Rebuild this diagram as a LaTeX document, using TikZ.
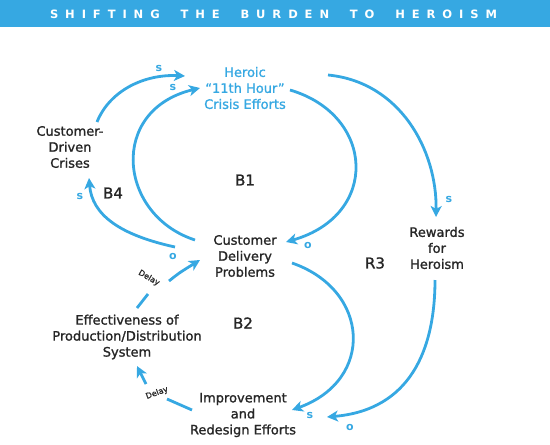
\documentclass[tikz,border=0pt]{standalone}
\usepackage{fontspec}
\setmainfont{DejaVu Sans}
\newfontfamily\inkfont[FakeBold=1.3,Ligatures=TeX]{DejaVu Sans}
\usetikzlibrary{arrows.meta,calc}
\definecolor{cldblue}{HTML}{36A8E2}
\definecolor{ink}{HTML}{262626}
\begin{document}
\begin{tikzpicture}[x=1pt,y=-1pt,
  lab/.style={font=\inkfont\fontsize{13}{16}\selectfont, text=ink, align=center, inner sep=1pt},
  loopl/.style={font=\inkfont\fontsize{15}{18}\selectfont, text=ink},
  pol/.style={font=\fontsize{11}{11}\selectfont\bfseries, text=cldblue, inner sep=0pt},
  dly/.style={font=\inkfont\fontsize{8}{9}\selectfont, text=ink, inner sep=0pt},
  link/.style={draw=cldblue, line width=2.8pt, -{Stealth[length=11pt,width=11pt,inset=3pt]}},
  plain/.style={draw=cldblue, line width=2.8pt}]
\useasboundingbox (0,0) rectangle (550,445);
\fill[cldblue] (0,0) rectangle (550,27);
\node[text=white, font=\fontsize{11.5}{12}\selectfont\bfseries, inner sep=0pt] (title) at (273.5,14)
 {\makebox[447pt][s]{S\hfill H\hfill I\hfill F\hfill T\hfill I\hfill N\hfill G\hfill\hfill\hfill
  T\hfill H\hfill E\hfill\hfill\hfill
  B\hfill U\hfill R\hfill D\hfill E\hfill N\hfill\hfill\hfill
  T\hfill O\hfill\hfill\hfill
  H\hfill E\hfill R\hfill O\hfill I\hfill S\hfill M}};

% variables
\node[lab, text=cldblue] (her) at (245,88) {Heroic\\“11th Hour”\\Crisis Efforts};
\node[lab] (cdc) at (70,147) {Customer-\\Driven\\Crises};
\node[lab] (cdp) at (245,256) {Customer\\Delivery\\Problems};
\node[lab] (rew) at (437,248) {Rewards\\for\\Heroism};
\node[lab] (eff) at (127,337) {Effectiveness of\\Production/Distribution\\System};
\node[lab] (imp) at (243,415) {Improvement\\and\\Redesign Efforts};

% loop labels
\node[loopl] (b1) at (245,180) {B1};
\node[loopl] (b4) at (113,193) {B4};
\node[loopl] (r3) at (375,263) {R3};
\node[loopl] (b2) at (243,323) {B2};

% links
\draw[link] ($(cdc)+(27,-25)$) .. controls (110,90) and (145,74) .. ($(her)+(-60,-12)$);
\draw[link] ($(cdp)+(-50,-16)$) .. controls (118,215) and (108,110) .. ($(her)+(-45,0)$);
\draw[link] ($(her)+(45,2)$) .. controls (375,115) and (380,215) .. ($(cdp)+(41,-14)$);
\draw[link] ($(her)+(83,-13)$) .. controls (400,82) and (437,150) .. ($(rew)+(-1,-31)$);
\draw[link] ($(cdp)+(-70,-9)$) .. controls (120,235) and (92,215) .. ($(cdc)+(19,31)$);
\draw[link] ($(cdp)+(47,7)$) .. controls (370,290) and (375,380) .. ($(imp)+(49,-5)$);
\draw[link] ($(rew)+(-2,32)$) .. controls (435,350) and (410,410) .. ($(imp)+(84,2)$);

% delayed links
\coordinate (d1a) at (148,294);
\coordinate (d1b) at (169,281);
\draw[plain] ($(eff)+(10,-29)$) -- (d1a);
\draw[link] (d1b) .. controls (179,273) .. ($(cdp)+(-45,4)$);
\node[dly, rotate=-30] (dl1) at (149,278) {Delay};

\coordinate (d2a) at (167,399);
\coordinate (d2b) at (146,384);
\draw[plain] ($(imp)+(-51,-5)$) -- (d2a);
\draw[link] (d2b) -- ($(eff)+(10,29)$);
\node[dly, rotate=20] (dl2) at (157,393) {Delay};

% polarities
\node[pol] (p1) at (159,68) {s};
\node[pol] (p2) at (173,87) {s};
\node[pol] (p3) at (308,245) {o};
\node[pol] (p4) at (449,199) {s};
\node[pol] (p5) at (80,196) {s};
\node[pol] (p6) at (310,415) {s};
\node[pol] (p7) at (350,427) {o};
\node[pol] (p8) at (173,256) {o};
\end{tikzpicture}
\end{document}
